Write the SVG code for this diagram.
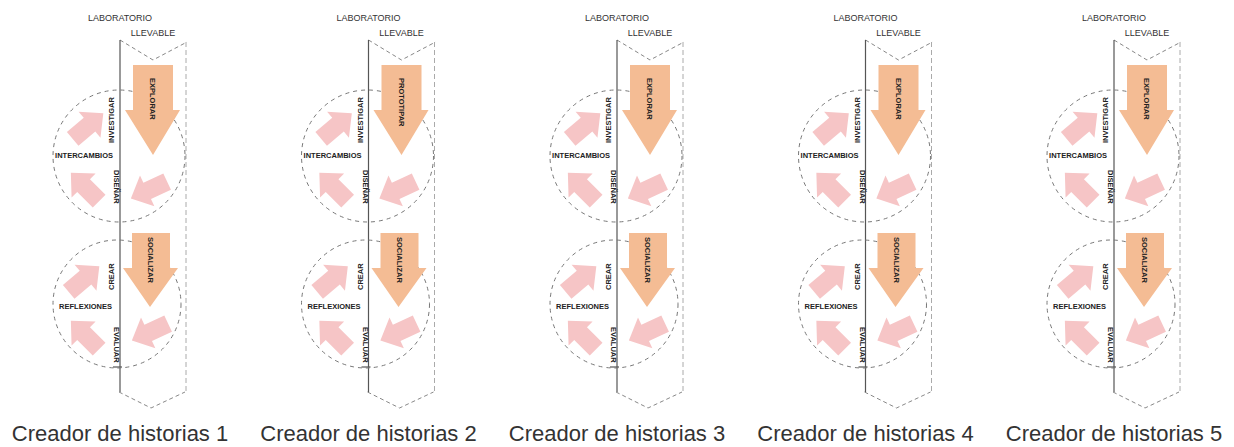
<svg xmlns="http://www.w3.org/2000/svg" width="1234" height="447" viewBox="0 0 1234 447">
<style>
.bg{fill:#fff}
.edgeL{stroke:#555;stroke-width:1.2;fill:none}
.edgeD{stroke:#888;stroke-width:1;fill:none;stroke-dasharray:4 3}
.edgeR{stroke:#aaa;stroke-width:1;fill:none;stroke-dasharray:5 3}
.circ{stroke:#777;stroke-width:1;fill:none;stroke-dasharray:4 4}
.orange{fill:#F4BC94}
.pink{fill:#F6C5C6}
.t{font-family:"Liberation Sans",Arial,sans-serif;font-size:7.5px;font-weight:bold;fill:#222}
.tl{font-family:"Liberation Sans",Arial,sans-serif;font-size:9px;fill:#333}
.cap{font-family:"Liberation Sans",Arial,sans-serif;font-size:22px;fill:#333;text-anchor:middle}
</style>
<defs>
<path id="pa" d="M-20,-9 H2 V-17 L20,0 L2,17 V9 H-20 Z"/>
<g id="shape">
<path class="edgeD" d="M120,40 L153,60 L187,42"/>
<path class="edgeR" d="M186,42 V392"/>
<path class="edgeL" d="M120,40 V392"/>
<path class="edgeL" d="M113,367 H122"/>
<path class="edgeD" d="M119,392 L151,408 L185,392"/>
<circle class="circ" cx="119" cy="156" r="66"/>
<circle class="circ" cx="117" cy="304" r="64"/>
<path class="orange" d="M133,65 H173 V110 H180 L153,155 L125,110 H133 Z"/>
<path class="orange" d="M132,233 H170 V268 H178 L150,307 L123,268 H132 Z"/>
<use href="#pa" class="pink" transform="translate(88,126) rotate(-40)"/>
<use href="#pa" class="pink" transform="translate(85,187) rotate(-135)"/>
<use href="#pa" class="pink" transform="translate(149,190) rotate(155)"/>
<use href="#pa" class="pink" transform="translate(84,279) rotate(-40)"/>
<use href="#pa" class="pink" transform="translate(85,335) rotate(-135)"/>
<use href="#pa" class="pink" transform="translate(150,332) rotate(155)"/>
</g>
</defs>
<rect class="bg" width="1234" height="447"/>
<g id="connectors"/>
<g id="panel1">
<use href="#shape"/>
<text class="tl" x="120" y="21" text-anchor="middle">LABORATORIO</text>
<text class="tl" x="153" y="36" text-anchor="middle">LLEVABLE</text>
<text class="t" transform="translate(150,78) rotate(90)">EXPLORAR</text>
<text class="t" transform="translate(114,143) rotate(-90)">INVESTIGAR</text>
<text class="t" x="113" y="158" text-anchor="end">INTERCAMBIOS</text>
<text class="t" transform="translate(114,170) rotate(90)">DISEÑAR</text>
<text class="t" transform="translate(148,237) rotate(90)">SOCIALIZAR</text>
<text class="t" transform="translate(114,290) rotate(-90)">CREAR</text>
<text class="t" x="112" y="309" text-anchor="end">REFLEXIONES</text>
<text class="t" transform="translate(114,327) rotate(90)">EVALUAR</text>
<text class="cap" x="120" y="441">Creador de historias 1</text>
</g>
<g id="panel2" transform="translate(248.5,0)">
<use href="#shape"/>
<text class="tl" x="120" y="21" text-anchor="middle">LABORATORIO</text>
<text class="tl" x="153" y="36" text-anchor="middle">LLEVABLE</text>
<text class="t" transform="translate(150,78) rotate(90)">PROTOTIPAR</text>
<text class="t" transform="translate(114,143) rotate(-90)">INVESTIGAR</text>
<text class="t" x="113" y="158" text-anchor="end">INTERCAMBIOS</text>
<text class="t" transform="translate(114,170) rotate(90)">DISEÑAR</text>
<text class="t" transform="translate(148,237) rotate(90)">SOCIALIZAR</text>
<text class="t" transform="translate(114,290) rotate(-90)">CREAR</text>
<text class="t" x="112" y="309" text-anchor="end">REFLEXIONES</text>
<text class="t" transform="translate(114,327) rotate(90)">EVALUAR</text>
<text class="cap" x="120" y="441">Creador de historias 2</text>
</g>
<g id="panel3" transform="translate(497,0)">
<use href="#shape"/>
<text class="tl" x="120" y="21" text-anchor="middle">LABORATORIO</text>
<text class="tl" x="153" y="36" text-anchor="middle">LLEVABLE</text>
<text class="t" transform="translate(150,78) rotate(90)">EXPLORAR</text>
<text class="t" transform="translate(114,143) rotate(-90)">INVESTIGAR</text>
<text class="t" x="113" y="158" text-anchor="end">INTERCAMBIOS</text>
<text class="t" transform="translate(114,170) rotate(90)">DISEÑAR</text>
<text class="t" transform="translate(148,237) rotate(90)">SOCIALIZAR</text>
<text class="t" transform="translate(114,290) rotate(-90)">CREAR</text>
<text class="t" x="112" y="309" text-anchor="end">REFLEXIONES</text>
<text class="t" transform="translate(114,327) rotate(90)">EVALUAR</text>
<text class="cap" x="120" y="441">Creador de historias 3</text>
</g>
<g id="panel4" transform="translate(745.5,0)">
<use href="#shape"/>
<text class="tl" x="120" y="21" text-anchor="middle">LABORATORIO</text>
<text class="tl" x="153" y="36" text-anchor="middle">LLEVABLE</text>
<text class="t" transform="translate(150,78) rotate(90)">EXPLORAR</text>
<text class="t" transform="translate(114,143) rotate(-90)">INVESTIGAR</text>
<text class="t" x="113" y="158" text-anchor="end">INTERCAMBIOS</text>
<text class="t" transform="translate(114,170) rotate(90)">DISEÑAR</text>
<text class="t" transform="translate(148,237) rotate(90)">SOCIALIZAR</text>
<text class="t" transform="translate(114,290) rotate(-90)">CREAR</text>
<text class="t" x="112" y="309" text-anchor="end">REFLEXIONES</text>
<text class="t" transform="translate(114,327) rotate(90)">EVALUAR</text>
<text class="cap" x="120" y="441">Creador de historias 4</text>
</g>
<g id="panel5" transform="translate(994,0)">
<use href="#shape"/>
<text class="tl" x="120" y="21" text-anchor="middle">LABORATORIO</text>
<text class="tl" x="153" y="36" text-anchor="middle">LLEVABLE</text>
<text class="t" transform="translate(150,78) rotate(90)">EXPLORAR</text>
<text class="t" transform="translate(114,143) rotate(-90)">INVESTIGAR</text>
<text class="t" x="113" y="158" text-anchor="end">INTERCAMBIOS</text>
<text class="t" transform="translate(114,170) rotate(90)">DISEÑAR</text>
<text class="t" transform="translate(148,237) rotate(90)">SOCIALIZAR</text>
<text class="t" transform="translate(114,290) rotate(-90)">CREAR</text>
<text class="t" x="112" y="309" text-anchor="end">REFLEXIONES</text>
<text class="t" transform="translate(114,327) rotate(90)">EVALUAR</text>
<text class="cap" x="120" y="441">Creador de historias 5</text>
</g>
</svg>
